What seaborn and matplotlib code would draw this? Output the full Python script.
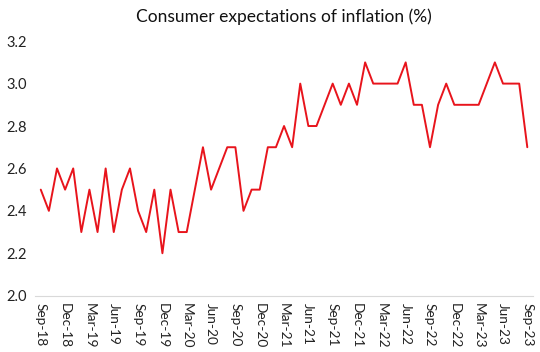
import matplotlib.pyplot as plt
import pandas as pd
import seaborn as sns

# monthly survey values, Sep-18 .. Sep-23
months = pd.date_range("2018-09-01", "2023-09-01", freq="MS").strftime("%b-%y").tolist()
expectations = [
    2.5, 2.4, 2.6, 2.5, 2.6, 2.3, 2.5, 2.3, 2.6, 2.3, 2.5, 2.6,
    2.4, 2.3, 2.5, 2.2, 2.5, 2.3, 2.3, 2.5, 2.7, 2.5, 2.6, 2.7,
    2.7, 2.4, 2.5, 2.5, 2.7, 2.7, 2.8, 2.7, 3.0, 2.8, 2.8, 2.9,
    3.0, 2.9, 3.0, 2.9, 3.1, 3.0, 3.0, 3.0, 3.0, 3.1, 2.9, 2.9,
    2.7, 2.9, 3.0, 2.9, 2.9, 2.9, 2.9, 3.0, 3.1, 3.0, 3.0, 3.0,
    2.7,
]
yticks = [2.0, 2.2, 2.4, 2.6, 2.8, 3.0, 3.2]

df = pd.DataFrame({"month": months, "value": expectations})
df["idx"] = range(len(df))

sns.set_style("white")
plt.rcParams["font.family"] = ["Lato", "DejaVu Sans"]

fig, ax = plt.subplots(figsize=(5.4, 3.52), dpi=100)
fig.subplots_adjust(left=0.065, right=0.987, top=0.883, bottom=0.16)

sns.lineplot(data=df, x="idx", y="value", color="#e8141c", linewidth=1.4, ax=ax)

ax.set_ylim(2.0, 3.2)
ax.set_yticks(yticks)
ax.set_yticklabels([f"{v:.1f}" for v in yticks], fontsize=10.5, color="#222222")
ax.set_xlim(-0.7, len(df) - 0.3)

tick_pos = df["idx"][::3]
ax.set_xticks(tick_pos)
ax.set_xticklabels(df["month"][::3], rotation=-90, fontsize=9.8, color="#222222")
ax.tick_params(axis="x", length=3, color="#d9d9d9", pad=2)
ax.tick_params(axis="y", length=0, pad=6)

for s in ["top", "right", "left"]:
    ax.spines[s].set_visible(False)
ax.spines["bottom"].set_color("#d9d9d9")
ax.spines["bottom"].set_linewidth(0.8)

ax.set_xlabel("")
ax.set_ylabel("")
ax.set_title("Consumer expectations of inflation (%)", fontsize=12.5, color="#111111", pad=14)

fig.savefig("out.png", dpi=100)
